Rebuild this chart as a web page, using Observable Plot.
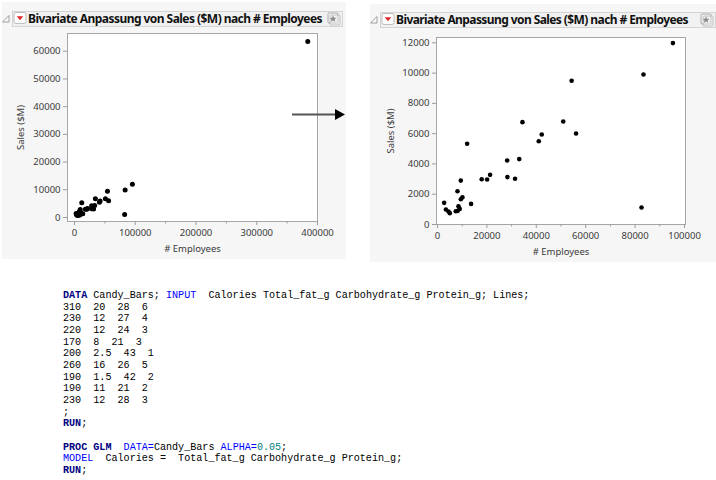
<!DOCTYPE html>
<html>
<head>
<meta charset="utf-8">
<script src="https://cdn.jsdelivr.net/npm/d3@7"></script>
<script src="https://cdn.jsdelivr.net/npm/@observablehq/plot@0.6"></script>
<style>
  html, body { margin: 0; padding: 0; background: #ffffff; }
  body { width: 716px; height: 480px; position: relative; overflow: hidden; font-family: "Noto Sans", sans-serif; }
  .panel { position: absolute; background: #f6f6f6; }
  .header { position: absolute; height: 16px; border: 1px solid #d4d4d4; background: #f1f1f1; box-sizing: border-box; }
  .title { position: absolute; font-family: "Noto Sans", sans-serif; font-weight: 700; font-size: 12px; color: #111; white-space: nowrap; line-height: 16px; }
  .chart { position: absolute; }
  .chrome { position: absolute; overflow: visible; }
  pre.code { position: absolute; margin: 0; font-family: "Liberation Mono", "DejaVu Sans Mono", monospace; font-size: 10.1px; line-height: 11.67px; color: #000; }
  .kw1 { color: #000080; font-weight: 700; }
  .kw2 { color: #0000ff; }
  .num { color: #008080; }
</style>
</head>
<body>
<script>
// ---- data ----
const employees = [2700, 3400, 4450, 5000, 7400, 8100, 8200, 8500, 9000, 9450, 9450, 10100, 12000, 13600, 17900, 20100, 21300, 28200, 28300, 31400, 33100, 34400, 41000, 42200, 50900, 54300, 56100, 82600, 83400, 95300, 384000];
const sales     = [1430, 990, 860, 750, 880, 2200, 900, 1210, 1030, 1670, 2900, 1800, 5330, 1360, 2990, 2970, 3280, 4230, 3130, 3020, 4320, 6760, 5500, 5940, 6800, 9490, 6010, 1120, 9910, 11980, 63500];

const titleText = "Bivariate Anpassung von Sales ($M) nach # Employees";
const xLabel = "# Employees";
const yLabel = "Sales ($M)";

const leftXTicks  = [0, 100000, 200000, 300000, 400000];
const leftXMinor  = [50000, 150000, 250000, 350000];
const leftYTicks  = [0, 10000, 20000, 30000, 40000, 50000, 60000];
const rightXTicks = [0, 20000, 40000, 60000, 80000, 100000];
const rightXMinor = [10000, 30000, 50000, 70000, 90000];
const rightYTicks = [0, 2000, 4000, 6000, 8000, 10000, 12000];
const rightMaxEmployees = 100000;

const codeLines = [
  [["DATA", "kw1"], [" Candy_Bars; ", ""], ["INPUT", "kw2"], ["  Calories Total_fat_g Carbohydrate_g Protein_g; Lines;", ""]],
  [["310  20  28  6", ""]],
  [["230  12  27  4", ""]],
  [["220  12  24  3", ""]],
  [["170  8  21  3", ""]],
  [["200  2.5  43  1", ""]],
  [["260  16  26  5", ""]],
  [["190  1.5  42  2", ""]],
  [["190  11  21  2", ""]],
  [["230  12  28  3", ""]],
  [[";", ""]],
  [["RUN", "kw1"], [";", ""]],
  [["", ""]],
  [["PROC GLM", "kw1"], ["  ", ""], ["DATA=", "kw2"], ["Candy_Bars ", ""], ["ALPHA=", "kw2"], ["0.05", "num"], [";", ""]],
  [["MODEL", "kw2"], ["  Calories =  Total_fat_g Carbohydrate_g Protein_g;", ""]],
  [["RUN", "kw1"], [";", ""]]
];

const table = employees.map((e, i) => ({employees: e, sales: sales[i]}));
const tableRight = table.filter(d => d.employees <= rightMaxEmployees);

// ---- helpers ----
function el(tag, cls, style, parent) {
  const e = document.createElement(tag);
  if (cls) e.className = cls;
  Object.assign(e.style, style);
  (parent || document.body).appendChild(e);
  return e;
}
const svgNS = "http://www.w3.org/2000/svg";

function chromeIcons(hx, hy, hw) {
  const s = document.createElementNS(svgNS, "svg");
  s.setAttribute("class", "chrome");
  s.setAttribute("width", 716); s.setAttribute("height", 40);
  s.style.left = "0px"; s.style.top = "0px";
  s.innerHTML =
    `<path d="M${hx-9.5},${hy+11} L${hx-3},${hy+4.5} L${hx-3},${hy+11} Z" fill="#fafafa" stroke="#8a8a8a" stroke-width="0.8"/>` +
    `<rect x="${hx+2}" y="${hy+1.5}" width="12" height="11" rx="2" fill="#fdfdfd" stroke="#b0b0b0" stroke-width="0.8"/>` +
    `<path d="M${hx+4.8},${hy+5.2} L${hx+11.2},${hy+5.2} L${hx+8},${hy+9.2} Z" fill="#e0262b"/>` +
    `<rect x="${hx+hw-15}" y="${hy+2}" width="10" height="10" rx="1" fill="#f4f4f4" stroke="#9a9a9a" stroke-width="0.8"/>` +
    `<rect x="${hx+hw-13}" y="${hy+4}" width="10" height="10" rx="1" fill="#e8e8e8" stroke="#9a9a9a" stroke-width="0.8" opacity="0.6"/>` +
    `<path d="M${hx+hw-10},${hy+4.5} l1,2.2 2.3,0.2 -1.8,1.5 0.6,2.3 -2.1,-1.3 -2.1,1.3 0.6,-2.3 -1.8,-1.5 2.3,-0.2 Z" fill="#8a8a8a"/>`;
  document.body.appendChild(s);
}

function header(hx, hy, hw, tx, target) {
  el("div", "header", {left: hx + "px", top: hy + "px", width: hw + "px"});
  const t = el("div", "title", {left: tx + "px", top: hy + "px"});
  t.textContent = titleText;
  t.dataset.target = target;
  chromeIcons(hx, hy, hw);
  return t;
}

// ---- panels ----
el("div", "panel", {left: "2px", top: "2px", width: "344px", height: "257px"});
el("div", "panel", {left: "370px", top: "4px", width: "346px", height: "258px"});

const titles = [
  header(12, 11, 331, 28, 294),
  header(380, 12, 336, 396, 292)
];

const axisStyle = {stroke: "#9c9c9c", fill: "#3a3a3a"};

// ---- left chart ----
const left = Plot.plot({
  width: 345, height: 230,
  marginLeft: 67, marginRight: 28, marginTop: 3, marginBottom: 39,
  style: {background: "transparent", fontFamily: "Noto Sans", fontSize: "9.5px", overflow: "visible"},
  x: {domain: [-11500, 400000], label: xLabel, labelArrow: "none"},
  y: {domain: [-1450, 66400], label: yLabel, labelArrow: "none"},
  marks: [
    Plot.frame({fill: "white", stroke: "#a6a6a6"}),
    Plot.axisY({...axisStyle, ticks: leftYTicks, tickSize: 4, tickPadding: 3, tickFormat: "d",
      label: yLabel, labelArrow: "none", labelAnchor: "center", labelOffset: 50}),
    Plot.axisX({...axisStyle, ticks: leftXTicks, tickSize: 4, tickPadding: 4, tickFormat: "d",
      label: xLabel, labelArrow: "none", labelAnchor: "center", labelOffset: 30}),
    Plot.axisX({...axisStyle, ticks: leftXMinor, tickSize: 2.5, text: null, label: null}),
    Plot.dot(table, {x: "employees", y: "sales", r: 2.5, fill: "black", stroke: null})
  ]
});
left.classList.add("chart");
Object.assign(left.style, {left: "0px", top: "30px"});
document.body.appendChild(left);

// ---- right chart ----
const right = Plot.plot({
  width: 346, height: 235,
  marginLeft: 66, marginRight: 31, marginTop: 7, marginBottom: 41,
  style: {background: "transparent", fontFamily: "Noto Sans", fontSize: "9.5px", overflow: "visible"},
  x: {domain: [-400, 100400], label: xLabel, labelArrow: "none"},
  y: {domain: [0, 12350], label: yLabel, labelArrow: "none"},
  marks: [
    Plot.frame({fill: "white", stroke: "#a6a6a6"}),
    Plot.axisY({...axisStyle, ticks: rightYTicks, tickSize: 4, tickPadding: 3, tickFormat: "d",
      label: yLabel, labelArrow: "none", labelAnchor: "center", labelOffset: 49}),
    Plot.axisX({...axisStyle, ticks: rightXTicks, tickSize: 4, tickPadding: 4, tickFormat: "d",
      label: xLabel, labelArrow: "none", labelAnchor: "center", labelOffset: 30}),
    Plot.axisX({...axisStyle, ticks: rightXMinor, tickSize: 2.5, text: null, label: null}),
    Plot.dot(tableRight, {x: "employees", y: "sales", r: 2.3, fill: "black", stroke: null})
  ]
});
right.classList.add("chart");
Object.assign(right.style, {left: "370px", top: "30px"});
document.body.appendChild(right);

// ---- arrow between the panels ----
const arrow = document.createElementNS(svgNS, "svg");
arrow.setAttribute("class", "chrome");
arrow.setAttribute("width", 716); arrow.setAttribute("height", 200);
arrow.style.left = "0px"; arrow.style.top = "0px";
arrow.innerHTML = `<line x1="292" y1="114.5" x2="336" y2="114.5" stroke="#555" stroke-width="1.8"/>` +
  `<path d="M335,109 L345,114.5 L335,120 Z" fill="#000"/>`;
document.body.appendChild(arrow);

// ---- SAS code ----
const pre = el("pre", "code", {left: "63px", top: "290px"});
codeLines.forEach((line, i) => {
  line.forEach(([txt, cls]) => {
    const sp = document.createElement("span");
    if (cls) sp.className = cls;
    sp.textContent = txt;
    pre.appendChild(sp);
  });
  if (i < codeLines.length - 1) pre.appendChild(document.createTextNode("\n"));
});

// fit title widths to the reference
function fit() {
  titles.forEach(t => {
    t.style.letterSpacing = "0px";
    const w = t.getBoundingClientRect().width;
    const n = t.textContent.length;
    t.style.letterSpacing = ((+t.dataset.target - w) / n) + "px";
  });
}
fit();
if (document.fonts && document.fonts.ready) document.fonts.ready.then(fit);
</script>
</body>
</html>
